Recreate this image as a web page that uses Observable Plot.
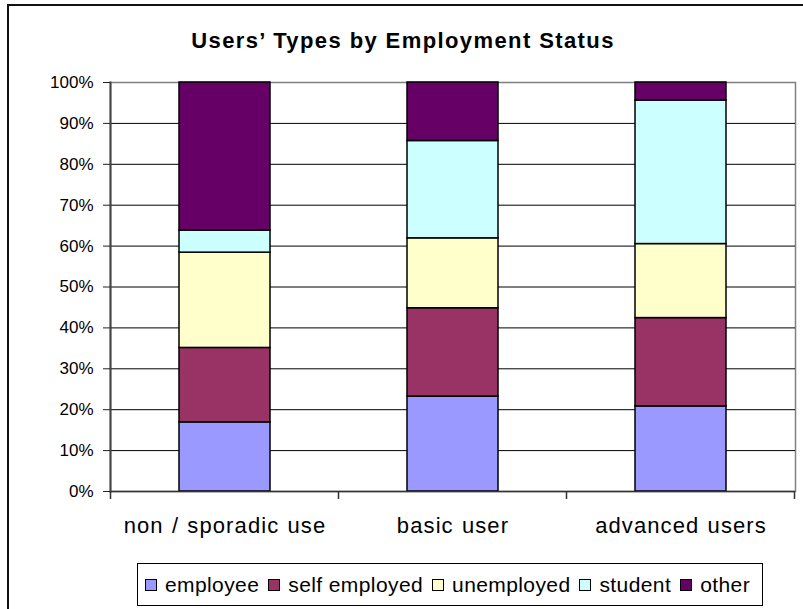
<!DOCTYPE html>
<html>
<head>
<meta charset="utf-8">
<script src="https://cdn.jsdelivr.net/npm/d3@7"></script>
<script src="https://cdn.jsdelivr.net/npm/@observablehq/plot@0.6"></script>
<style>
  html, body { margin: 0; padding: 0; background: #fff; }
  #wrap { position: relative; width: 803px; height: 609px; overflow: hidden; background: #fff;
          font-family: Arial, "Liberation Sans", sans-serif; color: #000; }
  #frame { position: absolute; left: 7px; top: 4px; width: 1000px; height: 1000px;
           border-top: 2px solid #111; border-left: 2px solid #111; }
  #title { position: absolute; left: 0; top: 30px; width: 806px; text-align: center;
           font-weight: bold; font-size: 22px; line-height: 22px; letter-spacing: 1.4px; }
  #chart { position: absolute; left: 0; top: 70px; }
  #legend { position: absolute; left: 137px; top: 563px; width: 626px; height: 43px; box-sizing: border-box;
            border: 1px solid #000; display: flex; align-items: center; padding-left: 7px;
            font-size: 21px; letter-spacing: 0.4px; white-space: nowrap; }
  #legend .item { display: flex; align-items: center; margin-right: 9px; }
  #legend .sw { width: 10px; height: 10px; border: 1px solid #000; margin-right: 8px; }
  svg g[aria-label="x-axis tick label"] text { letter-spacing: 1.1px; word-spacing: 1px; }
</style>
</head>
<body>
<div id="wrap">
  <div id="frame"></div>
  <div id="title">Users’ Types by Employment Status</div>
  <div id="chart"></div>
  <div id="legend"></div>
</div>
<script>
const categories = ["non / sporadic use", "basic user", "advanced users"];
const types = ["employee", "self employed", "unemployed", "student", "other"];
const colors = ["#9999FF", "#993366", "#FFFFCC", "#CCFFFF", "#660066"];
const employee     = [16.9, 23.2, 20.8];
const selfEmployed = [18.2, 21.6, 21.6];
const unemployed   = [23.3, 17.1, 18.1];
const student      = [5.4, 23.8, 35.1];
const other        = [36.2, 14.3, 4.4];
const yTicks = [0, 10, 20, 30, 40, 50, 60, 70, 80, 90, 100];

const series = [employee, selfEmployed, unemployed, student, other];
const data = [];
categories.forEach((c, i) => {
  types.forEach((t, j) => data.push({cat: c, type: t, value: series[j][i]}));
});

const plot = Plot.plot({
  width: 803,
  height: 490,
  marginLeft: 110,
  marginRight: 8,
  marginTop: 12,
  marginBottom: 69,
  style: {fontFamily: 'Arial, "Liberation Sans", sans-serif', color: "#000", background: "transparent"},
  x: {domain: categories, paddingInner: 0.6, paddingOuter: 0.3, label: null},
  y: {domain: [0, 100], label: null},
  color: {domain: types, range: colors},
  marks: [
    Plot.frame({stroke: "#808080", strokeWidth: 1.5}),
    Plot.gridY(yTicks.slice(1, -1), {stroke: "#000", strokeOpacity: 1, strokeWidth: 1}),
    Plot.barY(data, {x: "cat", y: "value", fill: "type", stroke: "#000", strokeWidth: 1.5}),
    Plot.ruleY([0], {stroke: "#333", strokeWidth: 1.5}),
    Plot.frame({anchor: "left", stroke: "#444", strokeWidth: 2}),
    Plot.axisY({ticks: yTicks, tickFormat: d => d + "%", tickSize: 7, tickPadding: 10, fontSize: 17, stroke: "#222"}),
    Plot.axisX({tickSize: 0, tickPadding: 26, fontSize: 22})
  ]
});
document.getElementById("chart").appendChild(plot);

// category boundary ticks below the x axis, from the band scale
const xs = plot.scale("x");
const ys = plot.scale("y");
const half = (xs.step - xs.bandwidth) / 2;
const bounds = categories.map(c => xs.apply(c) - half).concat([xs.apply(categories[categories.length - 1]) + xs.bandwidth + half]);
const y0 = ys.apply(0);
d3.select(plot).append("g")
  .selectAll("line").data(bounds).join("line")
  .attr("x1", d => d).attr("x2", d => d)
  .attr("y1", y0).attr("y2", y0 + 8)
  .attr("stroke", "#333").attr("stroke-width", 1.5);

// legend
const leg = d3.select("#legend");
types.forEach((t, i) => {
  const it = leg.append("div").attr("class", "item");
  it.append("div").attr("class", "sw").style("background", colors[i]);
  it.append("span").text(t);
});
</script>
</body>
</html>
